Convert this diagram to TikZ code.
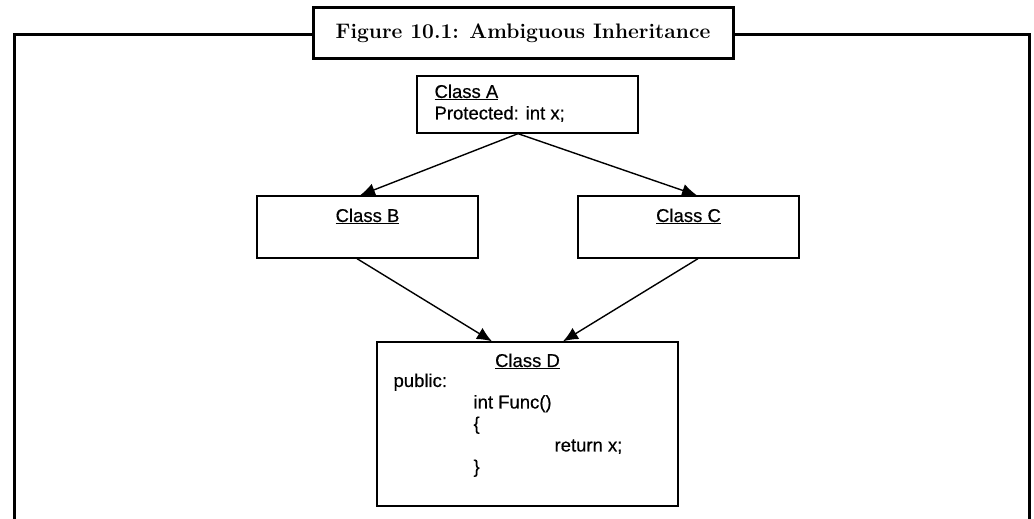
\documentclass[tikz,border=0pt]{standalone}
\usepackage{fontspec}
\newfontfamily\diagfont[FakeBold=0.5]{Liberation Sans}
\usetikzlibrary{arrows.meta}

\begin{document}
\begin{tikzpicture}[x=1pt, y=-1pt,
  classbox/.style = {shape=rectangle, draw, line width=1.3pt, inner sep=0pt,
  minimum width=221pt},
  inh/.style = {line width=1.4pt, -{Latex[length=15pt,width=13pt]}},
  every label/.style = {font=\diagfont\fontsize{18.5}{21.5}\selectfont,
  inner sep=0pt}]
  \useasboundingbox (0,0) rectangle (1034,519);
  % outer frame
  \draw[line width=3pt] (14,519) -- (14,35) -- (1029,35) -- (1029,519);
  \node[draw, fill=white, line width=3pt, minimum width=420pt,
    minimum height=51pt, font=\fontsize{21}{25}\selectfont\bfseries]
    (title) at (523,33.5) {Figure 10.1: Ambiguous Inheritance};
  % Class A
  \node[classbox, minimum height=57pt,
    label={[anchor=north west, align=left, xshift=18pt, yshift=-9pt]north west:
    \underline{Class A}\\Protected: int x;}]
    (clsA) at (527.5,104.5) {};
  % Class B, Class C
  \node[classbox, minimum height=62pt,
    label={[anchor=north, yshift=-13pt]north:\underline{Class B}}]
    (clsB) at (367.5,227) {};
  \node[classbox, minimum height=62pt,
    label={[anchor=north, yshift=-13pt]north:\underline{Class C}}]
    (clsC) at (688.5,227) {};
  % Class D
  \node[classbox, minimum width=301pt, minimum height=164pt,
    label={[anchor=north, yshift=-12pt]north:\underline{Class D}},
    label={[anchor=north west, align=left, xshift=17pt, yshift=-32pt]north west:
    public:\\
    \hspace*{80pt}int Func()\\
    \hspace*{80pt}\{\\
    \hspace*{161pt}return x;\\
    \hspace*{80pt}\}}]
    (clsD) at (527.5,424) {};
  % inheritance
  \draw[inh] ([xshift=-9.5pt]clsA.south) -- ([xshift=-7.5pt]clsB.north);
  \draw[inh] ([xshift=-9.5pt]clsA.south) -- ([xshift=8.5pt]clsC.north);
  \draw[inh] ([xshift=-10.5pt]clsB.south) -- ([xshift=-35.5pt]clsD.north);
  \draw[inh] ([xshift=9.5pt]clsC.south) -- ([xshift=35.5pt]clsD.north);
\end{tikzpicture}
\end{document}
